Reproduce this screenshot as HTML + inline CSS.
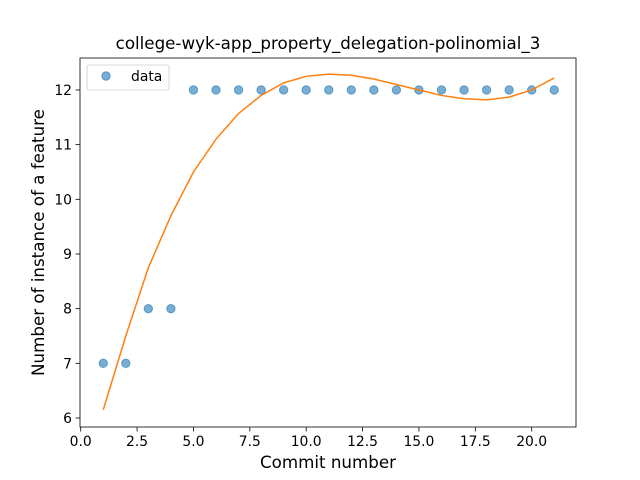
<!DOCTYPE html>
<html><head><meta charset="utf-8"><style>body{margin:0;background:#fff}svg{display:block}text{font-family:"DejaVu Sans","Liberation Sans",sans-serif;fill:#000}</style></head>
<body>
<svg id="chart" width="640" height="480" viewBox="0 0 640 480">
<rect width="640" height="480" fill="#fff"/>
<text x="328" y="49" font-size="16.7" text-anchor="middle">college-wyk-app_property_delegation-polinomial_3</text>
<g id="grid"></g>
<g id="marks"></g>
<rect x="80" y="58" width="496" height="369" fill="none" stroke="#000" stroke-width="0.8"/>
<text x="328" y="468" font-size="16.7" text-anchor="middle">Commit number</text>
<text transform="translate(44,242.5) rotate(-90)" font-size="16.7" text-anchor="middle">Number of instance of a feature</text>
<g>
<rect x="87" y="65" width="82" height="25" rx="2" fill="#fff" stroke="#ccc" stroke-width="0.8" fill-opacity="0.8"/>
<circle cx="106" cy="76" r="4.2" fill="#1f77b4" fill-opacity="0.6" stroke="#1f77b4" stroke-opacity="0.6"/>
<text x="131" y="81" font-size="13.9">data</text>
</g>
</svg>
<script>
const commits=[1,2,3,4,5,6,7,8,9,10,11,12,13,14,15,16,17,18,19,20,21];
const counts=[7,7,8,8,12,12,12,12,12,12,12,12,12,12,12,12,12,12,12,12,12];
const fitValues=[6.15,7.5,8.75,9.7,10.5,11.1,11.57,11.9,12.13,12.25,12.29,12.27,12.2,12.1,12.0,11.9,11.84,11.82,11.87,12.0,12.22];
const xTicks=[0,2.5,5,7.5,10,12.5,15,17.5,20];
const xTickLabels=["0.0","2.5","5.0","7.5","10.0","12.5","15.0","17.5","20.0"];
const yTicks=[6,7,8,9,10,11,12];
const yTickLabels=["6","7","8","9","10","11","12"];
const X=v=>80.7+v*22.55;
const Y=v=>418-(v-6)*54.67;
const NS="http://www.w3.org/2000/svg";
const g=document.getElementById('grid'),m=document.getElementById('marks');
function mk(tag,attrs,parent){const e=document.createElementNS(NS,tag);for(const k in attrs)e.setAttribute(k,attrs[k]);parent.appendChild(e);return e;}
xTicks.forEach((t,i)=>{
 const l=mk('line',{x1:X(t),x2:X(t),y1:427,y2:431.5,stroke:'#000','stroke-width':0.8},g);
 
 
 const tx=mk('text',{x:X(t),y:446,'font-size':13.9,'text-anchor':'middle'},g);tx.textContent=xTickLabels[i];
 
 
});
yTicks.forEach((t,i)=>{
 const l=mk('line',{x1:75.5,x2:80,y1:Y(t),y2:Y(t),stroke:'#000','stroke-width':0.8},g);
 
 
 const tx=mk('text',{x:72,y:Y(t)+5,'font-size':13.9,'text-anchor':'end'},g);tx.textContent=yTickLabels[i];
 
 
});
commits.forEach((c,i)=>{
 const p=mk('circle',{cx:X(c),cy:Y(counts[i]),r:4.2,fill:'#1f77b4','fill-opacity':0.6,stroke:'#1f77b4','stroke-opacity':0.6},m);
 
 
});
const pl=mk('polyline',{points:commits.map((c,i)=>X(c)+','+Y(fitValues[i])).join(' '),fill:'none',stroke:'#ff7f0e','stroke-width':1.5},m);


</script>
</body></html>
